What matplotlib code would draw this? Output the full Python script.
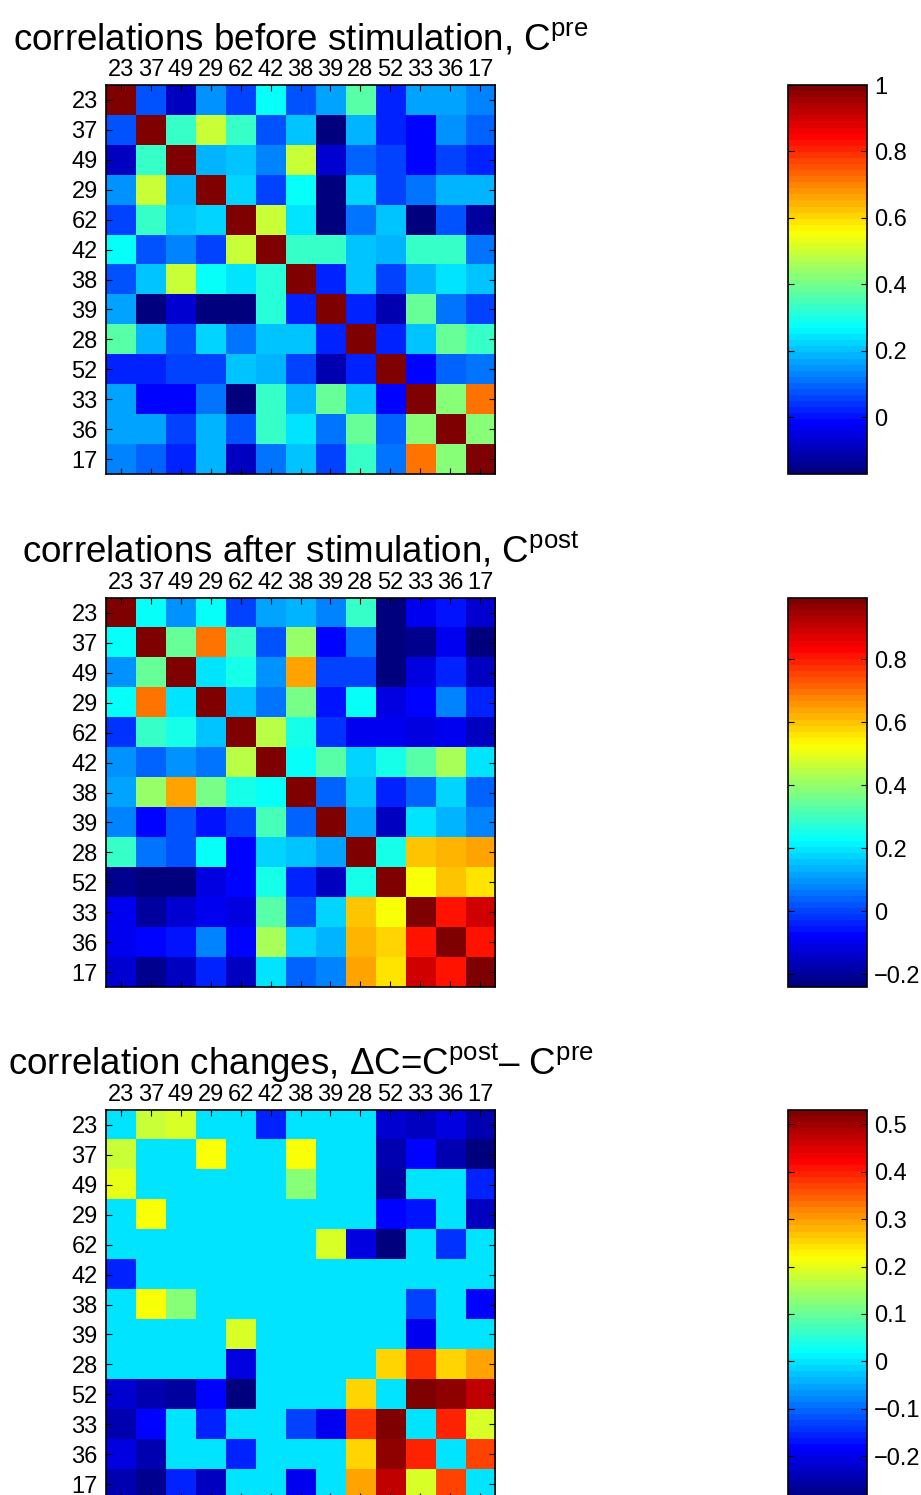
import matplotlib
matplotlib.use('Agg')
import matplotlib.pyplot as plt
import numpy as np
from matplotlib.colors import LinearSegmentedColormap
from matplotlib.ticker import FuncFormatter

plt.rcParams['font.family'] = ['Liberation Sans', 'DejaVu Sans']
plt.rcParams['mathtext.fontset'] = 'custom'
plt.rcParams['mathtext.rm'] = 'Liberation Sans'
plt.rcParams['mathtext.it'] = 'Liberation Sans:italic'

labels = ['23', '37', '49', '29', '62', '42', '38', '39', '28', '52', '33', '36', '17']

# correlations before stimulation
c_pre = [
    [1.00, 0.08, -0.08, 0.15, 0.06, 0.27, 0.08, 0.17, 0.37, 0.02, 0.16, 0.16, 0.14],
    [0.08, 1.00, 0.33, 0.50, 0.33, 0.08, 0.21, -0.16, 0.19, 0.02, -0.01, 0.15, 0.09],
    [-0.08, 0.33, 1.00, 0.19, 0.21, 0.14, 0.50, -0.07, 0.09, 0.06, -0.01, 0.05, 0.03],
    [0.15, 0.50, 0.19, 1.00, 0.23, 0.06, 0.28, -0.16, 0.23, 0.06, 0.11, 0.19, 0.19],
    [0.06, 0.33, 0.21, 0.23, 1.00, 0.50, 0.25, -0.16, 0.11, 0.21, -0.16, 0.08, -0.13],
    [0.27, 0.08, 0.14, 0.06, 0.50, 1.00, 0.33, 0.33, 0.21, 0.19, 0.33, 0.34, 0.12],
    [0.08, 0.21, 0.50, 0.28, 0.25, 0.31, 1.00, 0.03, 0.21, 0.06, 0.19, 0.24, 0.21],
    [0.17, -0.16, -0.07, -0.16, -0.16, 0.31, 0.03, 1.00, 0.02, -0.10, 0.38, 0.12, 0.06],
    [0.37, 0.19, 0.08, 0.22, 0.12, 0.21, 0.21, 0.02, 1.00, 0.02, 0.21, 0.38, 0.33],
    [0.02, 0.02, 0.06, 0.06, 0.21, 0.19, 0.06, -0.10, 0.02, 1.00, -0.01, 0.09, 0.11],
    [0.16, -0.01, -0.01, 0.11, -0.16, 0.33, 0.19, 0.38, 0.21, -0.01, 1.00, 0.42, 0.71],
    [0.16, 0.16, 0.05, 0.19, 0.08, 0.34, 0.24, 0.12, 0.38, 0.09, 0.42, 1.00, 0.42],
    [0.14, 0.09, 0.03, 0.19, -0.08, 0.12, 0.21, 0.06, 0.33, 0.11, 0.71, 0.42, 1.00],
]

# correlations after stimulation
c_post = [
    [1.00, 0.225, 0.10, 0.225, 0.005, 0.11, 0.13, 0.075, 0.285, -0.225, -0.10, -0.05, -0.13],
    [0.225, 1.00, 0.35, 0.70, 0.285, 0.03, 0.40, -0.085, 0.06, -0.235, -0.21, -0.10, -0.225],
    [0.09, 0.35, 1.00, 0.195, 0.245, 0.09, 0.64, 0.005, 0.005, -0.225, -0.12, -0.04, -0.16],
    [0.225, 0.70, 0.195, 1.00, 0.15, 0.05, 0.37, -0.05, 0.225, -0.11, -0.07, 0.075, -0.03],
    [-0.01, 0.285, 0.245, 0.15, 1.00, 0.44, 0.245, -0.01, -0.10, -0.10, -0.11, -0.10, -0.145],
    [0.10, 0.04, 0.09, 0.05, 0.44, 1.00, 0.225, 0.32, 0.18, 0.245, 0.33, 0.43, 0.19],
    [0.12, 0.40, 0.64, 0.37, 0.245, 0.225, 1.00, 0.04, 0.15, -0.04, 0.045, 0.18, 0.045],
    [0.075, -0.085, 0.03, -0.05, 0.005, 0.31, 0.04, 1.00, 0.11, -0.145, 0.185, 0.135, 0.075],
    [0.285, 0.06, 0.03, 0.225, -0.085, 0.18, 0.15, 0.11, 1.00, 0.245, 0.60, 0.62, 0.64],
    [-0.21, -0.235, -0.225, -0.12, -0.085, 0.245, -0.04, -0.16, 0.245, 1.00, 0.525, 0.60, 0.56],
    [-0.09, -0.20, -0.13, -0.10, -0.11, 0.33, 0.03, 0.18, 0.60, 0.525, 1.00, 0.81, 0.88],
    [-0.10, -0.085, -0.05, 0.075, -0.085, 0.43, 0.18, 0.13, 0.62, 0.58, 0.81, 1.00, 0.81],
    [-0.13, -0.21, -0.145, -0.04, -0.145, 0.185, 0.045, 0.075, 0.64, 0.56, 0.88, 0.81, 1.00],
]

# significant correlation changes (post - pre), zero where not significant
c_delta = [
    [0, 0.18, 0.195, 0, 0, -0.15, 0, 0, 0, -0.22, -0.23, -0.205, -0.245],
    [0.18, 0, 0, 0.21, 0, 0, 0.21, 0, 0, -0.25, -0.18, -0.24, -0.28],
    [0.20, 0, 0, 0, 0, 0, 0.13, 0, 0, -0.26, 0, 0, -0.15],
    [0, 0.21, 0, 0, 0, 0, 0, 0, 0, -0.18, -0.165, 0, -0.23],
    [0, 0, 0, 0, 0, 0, 0, 0.19, -0.205, -0.285, 0, -0.14, 0],
    [-0.15, 0, 0, 0, 0, 0, 0, 0, 0, 0, 0, 0, 0],
    [0, 0.21, 0.13, 0, 0, 0, 0, 0, 0, 0, -0.135, 0, -0.18],
    [0, 0, 0, 0, 0.19, 0, 0, 0, 0, 0, -0.19, 0, 0],
    [0, 0, 0, 0, -0.205, 0, 0, 0, 0, 0.25, 0.385, 0.25, 0.295],
    [-0.22, -0.25, -0.26, -0.18, -0.28, 0, 0, 0, 0.25, 0, 0.53, 0.51, 0.47],
    [-0.24, -0.18, 0, -0.16, 0, 0, -0.135, -0.19, 0.385, 0.53, 0, 0.40, 0.195],
    [-0.205, -0.24, 0, 0, -0.15, 0, 0, 0, 0.25, 0.51, 0.40, 0, 0.375],
    [-0.24, -0.27, -0.15, -0.23, 0, 0, -0.19, 0, 0.295, 0.47, 0.195, 0.375, 0],
]

titles = [
    r'correlations before stimulation, C$^{\mathrm{pre}}$',
    r'correlations after stimulation, C$^{\mathrm{post}}$',
    r'correlation changes, ΔC=C$^{\mathrm{post}}$– C$^{\mathrm{pre}}$',
]
clims = [(-0.17, 1.0), (-0.24, 0.995), (-0.29, 0.53)]
cticks = [
    [0, 0.2, 0.4, 0.6, 0.8, 1.0],
    [-0.2, 0, 0.2, 0.4, 0.6, 0.8],
    [-0.2, -0.1, 0, 0.1, 0.2, 0.3, 0.4, 0.5],
]

# MATLAB style jet with 64 levels
jet = LinearSegmentedColormap.from_list(
    'mjet',
    [(0.0, (0, 0, 0.5)), (0.125, (0, 0, 1)), (0.375, (0, 1, 1)),
     (0.625, (1, 1, 0)), (0.875, (1, 0, 0)), (1.0, (0.5, 0, 0))], N=64)

W, H = 921, 1495
fig = plt.figure(figsize=(W / 100, H / 100), dpi=100)

tops = [85, 598, 1110]
size = 389


def fmt(v, pos):
    s = '%g' % round(v, 3)
    return s.replace('-', '\u2212')


for k, mat in enumerate([c_pre, c_post, c_delta]):
    top = tops[k]
    ax = fig.add_axes([106 / W, (H - top - size) / H, size / W, size / H])
    im = ax.imshow(np.array(mat), cmap=jet, vmin=clims[k][0], vmax=clims[k][1],
                   interpolation='nearest', aspect='auto')
    ax.set_xticks(range(len(labels)))
    ax.set_yticks(range(len(labels)))
    ax.set_xticklabels(labels)
    ax.set_yticklabels(labels)
    ax.xaxis.tick_top()
    ax.tick_params(direction='in', top=True, bottom=True, left=True, right=True,
                   labeltop=True, labelbottom=False, length=4, width=0.8,
                   labelsize=17)
    ax.tick_params(axis='x', pad=3)
    ax.tick_params(axis='y', pad=6)
    for sp in ax.spines.values():
        sp.set_linewidth(1.2)
    ax.set_title(titles[k], fontsize=26.5, y=1 + 35 / size, pad=0)

    cax = fig.add_axes([788 / W, (H - top - size) / H, 79 / W, size / H])
    cb = fig.colorbar(im, cax=cax, ticks=cticks[k])
    cb.outline.set_linewidth(1.2)
    cax.yaxis.set_major_formatter(FuncFormatter(fmt))
    cax.tick_params(direction='in', left=True, right=True, labelleft=False,
                    labelright=True, length=4, width=0.8, labelsize=17, pad=5)

fig.savefig('out.png', dpi=100)
